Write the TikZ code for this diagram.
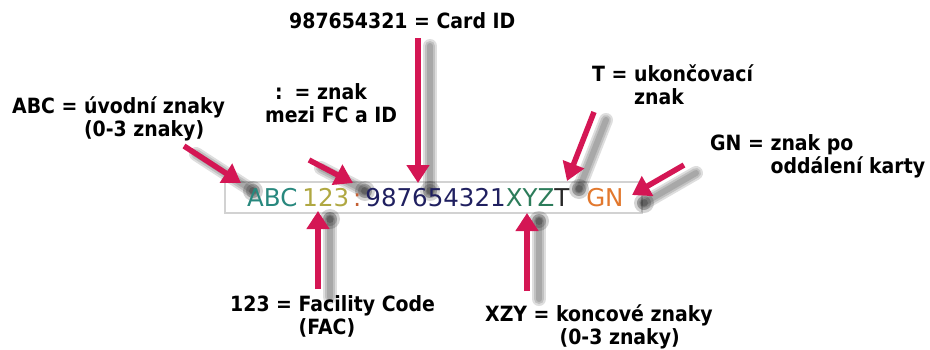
\documentclass[tikz,border=0pt]{standalone}
\usepackage{fontspec}
\setmainfont{DejaVu Sans}
\newfontfamily\lblfont[FakeStretch=0.9]{DejaVu Sans}
\usetikzlibrary{arrows.meta}
\definecolor{ptrred}{RGB}{212,22,84}
\definecolor{cABC}{RGB}{40,136,126}
\definecolor{cFAC}{RGB}{176,168,66}
\definecolor{cSep}{RGB}{196,96,52}
\definecolor{cID}{RGB}{32,32,96}
\definecolor{cXYZ}{RGB}{44,124,90}
\definecolor{cGN}{RGB}{226,120,46}
\tikzset{
  lbl/.style  ={font=\lblfont\fontsize{21}{23}\selectfont\bfseries, inner sep=0pt,
                align=left, anchor=base west},
  code/.style ={font=\fontsize{24.5}{26}\selectfont, inner sep=0pt, anchor=base west},
  bar/.style  ={draw=gray!35, line width=2.5pt, fill=white},
  ptr/.style  ={-{Triangle[length=18pt,width=22pt]}, line width=5.5pt, draw=ptrred},
  shd/.style  ={line width=#1, draw=black, line cap=round, opacity=.13},
  blob/.style ={fill=black, opacity=.17},
}

\begin{document}
\begin{tikzpicture}[x=1pt, y=-1pt]
\useasboundingbox (0,0) rectangle (930,349);

% the code string
\draw[bar] (225,182) rectangle (642,213);

% arrow ends
\coordinate (idT) at (418,38);   \coordinate (idH) at (418,183);
\coordinate (abcT) at (184,146); \coordinate (abcH) at (241,183);
\coordinate (sepT) at (309,160); \coordinate (sepH) at (353,183);
\coordinate (tT) at (594,112);   \coordinate (tH) at (567,181);
\coordinate (gnT) at (684,165);  \coordinate (gnH) at (632,195);
\coordinate (facT) at (318,289); \coordinate (facH) at (318,211);
\coordinate (xyzT) at (527,291); \coordinate (xyzH) at (527,213);

% shadows
\foreach \a/\b in {idT/idH,abcT/abcH,sepT/sepH,tT/tH,gnT/gnH,facT/facH,xyzT/xyzH}{
  \foreach \w in {14pt,10pt,6pt}
    \draw[shd=\w] ([shift={(12,8)}]\a) -- ([shift={(12,8)}]\b);
  \foreach \r in {10,7,4}
    \fill[blob] ([shift={(12,8)}]\b) circle (\r);
}

\node[code] (str) at (247,206) {\textcolor{cABC}{ABC}\hspace{5pt}\textcolor{cFAC}{123}\hspace{4pt}\textcolor{cSep}{:}\hspace{4pt}\textcolor{cID}{987654321}\textcolor{cXYZ}{XYZ}\textcolor{black!85}{T}\hspace{17pt}\textcolor{cGN}{GN}};

% labels
\node[lbl] (idl) at (289,28) {987654321 = Card ID};
\node[lbl] (abcl) at (12,136) {ABC = úvodní znaky\\\phantom{ABC = }(0-3 znaky)};
\node[lbl] (sepl) at (265,122) {\hspace*{10pt}:\hspace{12pt}= znak\\mezi FC a ID};
\node[lbl] (tl) at (592,104) {T = ukončovací\\\phantom{T = }znak};
\node[lbl] (gnl) at (710,173) {GN = znak po\\\phantom{GN = }oddálení karty};
\node[lbl] (facl) at (230,334) {123 = Facility Code\\\phantom{123 = }(FAC)};
\node[lbl] (xyzl) at (485,344) {XZY = koncové znaky\\\phantom{XZY = }\,(0-3 znaky)};

% pointers
\draw[ptr] (idT) -- (idH);
\draw[ptr] (abcT) -- (abcH);
\draw[ptr] (sepT) -- (sepH);
\draw[ptr] (tT) -- (tH);
\draw[ptr] (gnT) -- (gnH);
\draw[ptr] (facT) -- (facH);
\draw[ptr] (xyzT) -- (xyzH);

\end{tikzpicture}
\end{document}
